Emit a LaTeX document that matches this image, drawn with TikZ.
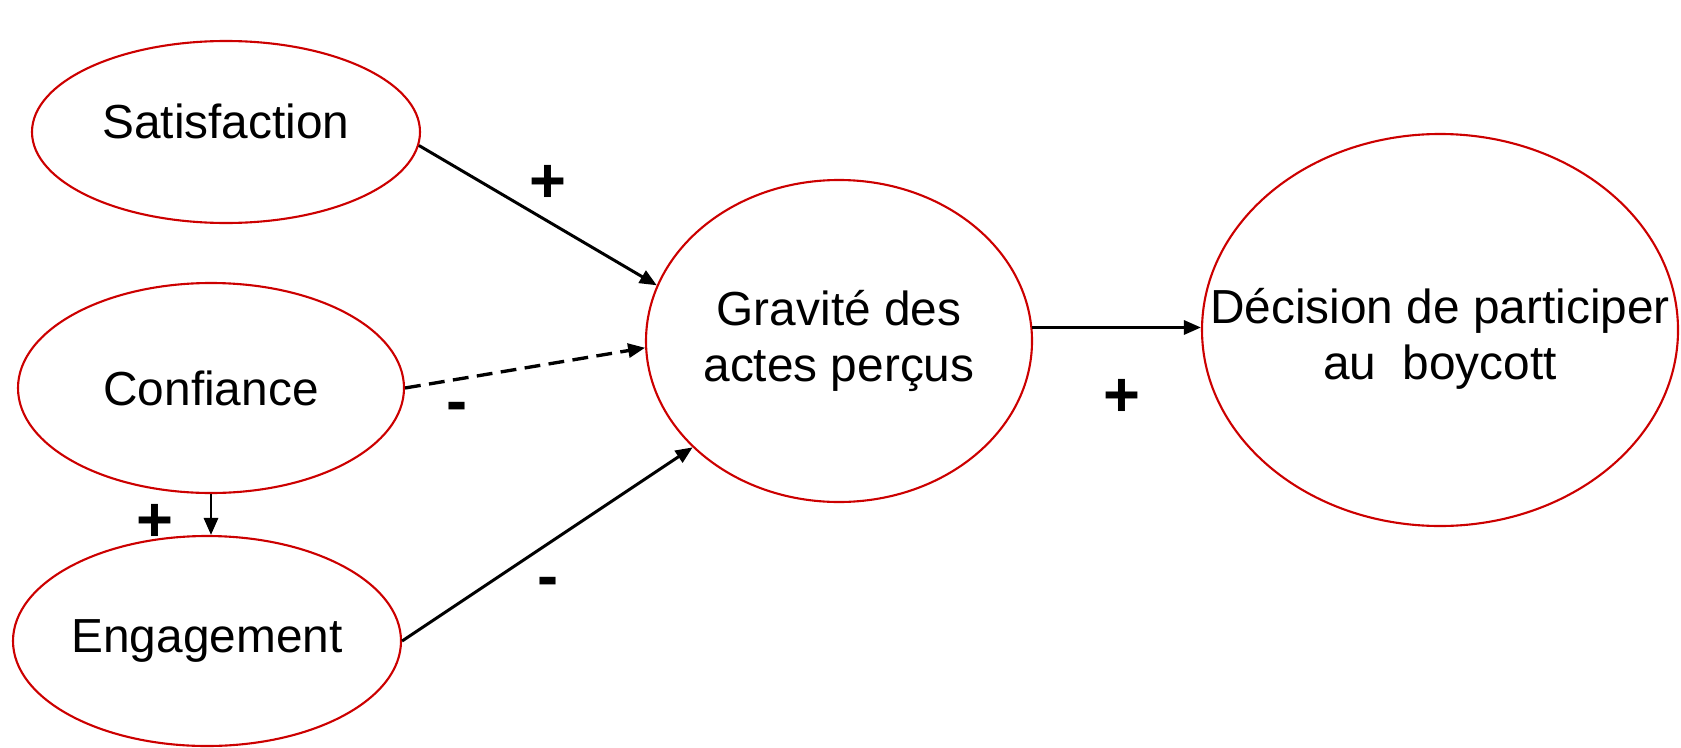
\documentclass[tikz,border=0pt]{standalone}
\usepackage{fontspec}
\setmainfont{Liberation Sans}
\usetikzlibrary{arrows.meta,shapes.geometric}
\definecolor{redline}{HTML}{CC0000}
\tikzset{
  construct/.style={
    ellipse,
    draw=redline,
    line width=0.6pt,
    inner sep=0pt,
    align=center,
    font=\fontsize{13.6}{16}\selectfont
  },
  effect/.style={-{Triangle[length=1.7mm,width=1.4mm]},line width=0.85pt,draw=black},
  sign/.style={font=\fontsize{18}{20}\selectfont\bfseries,inner sep=0pt}
}

\begin{document}
\begin{tikzpicture}
  \useasboundingbox (0,0) rectangle (16.81,7.47);

  \node[construct,minimum width=3.88cm,minimum height=1.82cm] (sat)  at (2.26, 6.15) {\raisebox{0.21cm}{Satisfaction}};
  \node[construct,minimum width=3.86cm,minimum height=2.10cm] (conf) at (2.11, 3.59) {Confiance};
  \node[construct,minimum width=3.88cm,minimum height=2.10cm] (eng)  at (2.07, 1.06) {\raisebox{-0.05cm}{Engagement}};
  \node[construct,minimum width=3.86cm,minimum height=3.22cm] (grav) at (8.39, 4.06) {Gravité des\\actes perçus};
  \node[construct,minimum width=4.76cm,minimum height=3.92cm,
        label={[name=decText,align=center,yshift=-0.09cm,inner sep=0pt,font=\fontsize{13.6}{16}\selectfont]center:Décision de participer\\au~~boycott}] (dec) at (14.40, 4.17) {};

  \draw[effect] (sat.-4) -- (grav.163);
  \draw[effect,line width=0.95pt,dash pattern=on 4.5pt off 2.4pt] (conf.east) -- (grav.182);
  \draw[effect] (eng.east) -- (grav.216);
  \draw[effect] (grav.4) -- (grav.4 -| dec.west);
  \draw[effect] (conf.south) -- (conf.south |- eng.north);

  \node[sign] (p1) at (5.48, 5.63) {+};
  \node[sign] (m1) at (4.57, 3.35) {-};
  \node[sign] (m2) at (5.48, 1.60) {-};
  \node[sign] (p2) at (11.22, 3.49) {+};
  \node[sign] (p3) at (1.55, 2.24) {+};
\end{tikzpicture}
\end{document}
